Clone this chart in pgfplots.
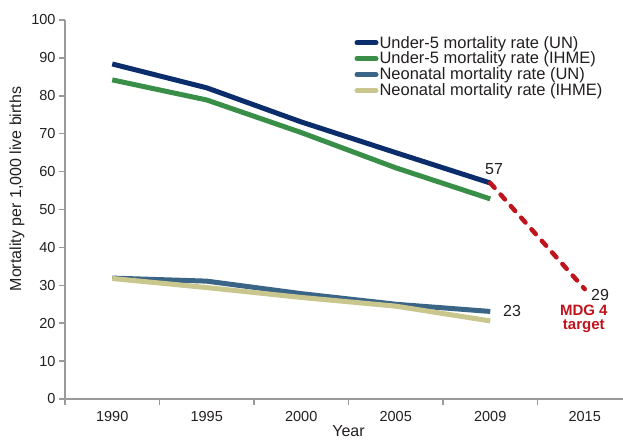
\documentclass[border=0pt]{standalone}
\usepackage{fontspec}
\setmainfont{Liberation Sans}
\usepackage{pgfplots}
\pgfplotsset{compat=1.18}

\definecolor{unfive}{HTML}{0B2D6B}
\definecolor{ihmefive}{HTML}{3A8F48}
\definecolor{unneo}{HTML}{3B6586}
\definecolor{ihmeneo}{HTML}{C9C68E}
\definecolor{target}{HTML}{C0141C}
\definecolor{axisgray}{HTML}{9A9A9A}
\definecolor{txt}{HTML}{231F20}

\begin{document}
\begin{tikzpicture}
  \begin{axis}[
    at={(65bp,41bp)}, anchor=south west,
    scale only axis,
    width=567bp, height=379bp,
    xmin=-0.5, xmax=5.5,
    ymin=0, ymax=100,
    axis x line*=bottom,
    axis y line*=left,
    axis line style={draw=axisgray, line width=2bp, -},
    tick style={draw=axisgray, line width=1.5bp},
    tick align=outside,
    major tick length=6bp,
    xtick={-0.5,0.5,...,5.5},
    x tick label as interval,
    xticklabels={1990,1995,2000,2005,2009,2015},
    ytick={0,10,...,100},
    tick label style={font=\fontsize{14.5bp}{16bp}\selectfont, text=txt},
    xticklabel style={yshift=-3bp},
    /pgf/number format/assume math mode=true,
    xlabel={Year},
    ylabel={Mortality per 1,000 live births},
    label style={font=\fontsize{16bp}{18bp}\selectfont, text=txt},
    xlabel style={yshift=3.5bp},
    ylabel style={at={(ticklabel cs:0.554)}},
    legend style={
      at={(0.505,0.966)}, anchor=north west,
      draw=none, fill=none,
      font=\fontsize{16.5bp}{18bp}\selectfont,
      text=txt,
      row sep=0.5bp,
      nodes={inner sep=1bp},
    },
    legend cell align=left,
    legend image code/.code={\draw[#1, line cap=round] (0bp,0bp) -- (19bp,0bp);},
    every axis plot/.append style={line width=5bp, line join=round},
    clip=false,
  ]
    \addplot[unfive] coordinates {(0,88.4) (1,82.1) (2,73.1) (3,65.0) (4,57.0)};
    \addlegendentry{Under-5 mortality rate (UN)}
    \addplot[ihmefive] coordinates {(0,84.2) (1,78.9) (2,70.3) (3,61.0) (4,52.8)};
    \addlegendentry{Under-5 mortality rate (IHME)}
    \addplot[unneo] coordinates {(0,31.9) (1,31.1) (2,27.8) (3,25.0) (4,23.1)};
    \addlegendentry{Neonatal mortality rate (UN)}
    \addplot[ihmeneo] coordinates {(0,31.8) (1,29.4) (2,26.8) (3,24.5) (4,20.6)};
    \addlegendentry{Neonatal mortality rate (IHME)}
    \addplot[target, line width=4.5bp, dash pattern=on 6.5bp off 9bp, line cap=round, forget plot]
      coordinates {(4,57) (5,29)};
    \node[font=\fontsize{16bp}{18bp}\selectfont, text=txt, anchor=south] at (axis cs:4.04,58.3) {57};
    \node[font=\fontsize{16bp}{18bp}\selectfont, text=txt, anchor=west] at (axis cs:4.1,23.3) {23};
    \node[font=\fontsize{16bp}{18bp}\selectfont, text=txt, anchor=west] at (axis cs:5.03,27.4) {29};
    \node[font=\bfseries\fontsize{15bp}{14bp}\selectfont, text=target, align=center, anchor=north] at (axis cs:4.99,25.6) {MDG 4\\target};
  \end{axis}
  \pgfresetboundingbox
  \path[use as bounding box] (0,0) rectangle (623bp,440bp);
\end{tikzpicture}
\end{document}
